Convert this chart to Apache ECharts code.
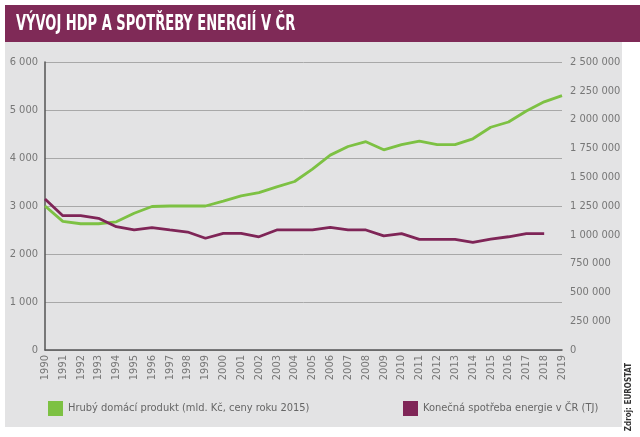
<!DOCTYPE html>
<html>
<head>
<meta charset="utf-8">
<script src="https://cdn.jsdelivr.net/npm/echarts@6/dist/echarts.min.js"></script>
<style>
  html, body { margin: 0; padding: 0; background: #fff; }
  #chart { width: 640px; height: 437px; }
</style>
</head>
<body>
<div id="chart"></div>
<script>
// roky
const years = ['1990','1991','1992','1993','1994','1995','1996','1997','1998','1999',
  '2000','2001','2002','2003','2004','2005','2006','2007','2008','2009',
  '2010','2011','2012','2013','2014','2015','2016','2017','2018','2019']

// HDP, mld. Kč (ceny roku 2015)
const hdp = [3000, 2680, 2630, 2630, 2670, 2850, 2990, 3000, 3000, 3000,
  3100, 3210, 3280, 3400, 3510, 3770, 4060, 4240, 4340, 4170,
  4280, 4350, 4280, 4280, 4400, 4640, 4750, 4980, 5170, 5300]

// konečná spotřeba energie, TJ (2019 chybí)
const energie = [1310000, 1166000, 1166000, 1143000, 1070000, 1042000, 1062000, 1042000, 1024000, 970000,
  1013000, 1013000, 983000, 1042000, 1042000, 1042000, 1065000, 1042000, 1042000, 990000,
  1010000, 961000, 961000, 961000, 935000, 963000, 983000, 1010000, 1010000, null]

const nameHdp = 'Hrubý domácí produkt (mld. Kč, ceny roku 2015)'
const nameEn = 'Konečná spotřeba energie v ČR (TJ)'
const titulek = 'VÝVOJ HDP A SPOTŘEBY ENERGIÍ V ČR'

const font = "'Liberation Sans Narrow', 'DejaVu Sans Condensed', 'Open Sans', sans-serif"
const fmt = v => String(v).replace(/\B(?=(\d{3})+(?!\d))/g, ' ')

const myChart = echarts.init(document.getElementById('chart'))
myChart.setOption({
  backgroundColor: '#fff',
  animation: false,
  textStyle: { fontFamily: font },
  graphic: [
    { type: 'rect', z: -10, shape: { x: 5, y: 40, width: 617, height: 387 }, style: { fill: '#e3e3e4' } },
    { type: 'rect', z: -10, shape: { x: 5, y: 5, width: 635, height: 37 }, style: { fill: '#7f2a57' } },
    // titulek - úzké písmo, proto scaleX
    {
      type: 'text', x: 16, y: 25, scaleX: 0.69,
      style: { text: titulek, fill: '#fff', font: "bold 21px 'DejaVu Sans Condensed', sans-serif", verticalAlign: 'middle' }
    },
    {
      type: 'text', x: 629, y: 397, rotation: Math.PI / 2,
      style: { text: 'Zdroj: EUROSTAT', fill: '#333', font: "bold 8px 'DejaVu Sans Condensed', sans-serif", align: 'center', verticalAlign: 'middle' }
    }
  ],
  legend: [
    { data: [nameHdp], left: 43, top: 396, icon: 'rect', itemWidth: 15, itemHeight: 15, itemGap: 5,
      textStyle: { color: '#666', fontSize: 11, fontFamily: font } },
    { data: [nameEn], left: 398, top: 396, icon: 'rect', itemWidth: 15, itemHeight: 15, itemGap: 5,
      textStyle: { color: '#666', fontSize: 11, fontFamily: font } }
  ],
  grid: { left: 45, right: 78, top: 62, bottom: 87, containLabel: false },
  xAxis: {
    type: 'category',
    data: years,
    boundaryGap: false,
    axisLine: { lineStyle: { color: '#555', width: 1.5 } },
    axisTick: { show: false },
    axisLabel: { rotate: 90, color: '#777', fontSize: 11, margin: 5, interval: 0 }
  },
  yAxis: [
    {
      type: 'value', min: 0, max: 6000, interval: 1000,
      axisLine: { show: true, lineStyle: { color: '#555', width: 1.5 } },
      axisTick: { show: false },
      splitLine: { lineStyle: { color: '#a8a8a8', width: 1 } },
      axisLabel: { color: '#777', fontSize: 11, margin: 7, formatter: fmt }
    },
    {
      type: 'value', min: 0, max: 2500000, interval: 250000,
      axisLine: { show: false },
      axisTick: { show: false },
      splitLine: { show: false },
      axisLabel: { color: '#777', fontSize: 11, margin: 8, formatter: fmt }
    }
  ],
  series: [
    {
      name: nameHdp, type: 'line', data: hdp, yAxisIndex: 0,
      symbol: 'none', color: '#7dc143', lineStyle: { width: 2.8 }
    },
    {
      name: nameEn, type: 'line', data: energie, yAxisIndex: 1,
      symbol: 'none', color: '#7f2557', lineStyle: { width: 2.8 }
    }
  ]
})
</script>
</body>
</html>
